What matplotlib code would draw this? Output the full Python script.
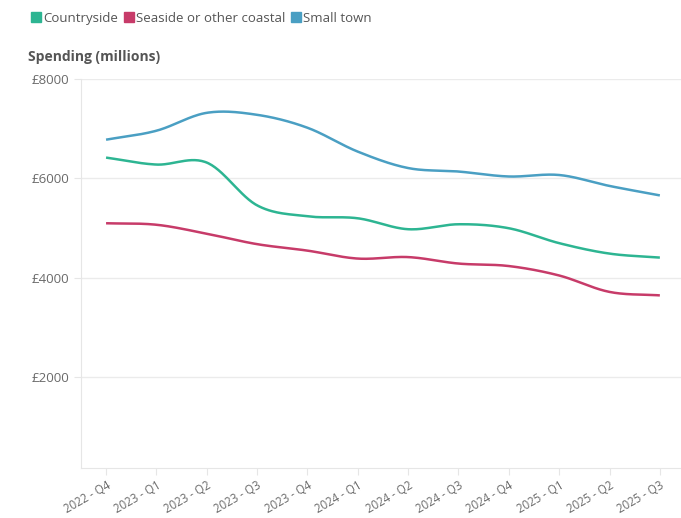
import numpy as np
import matplotlib.pyplot as plt
from matplotlib.lines import Line2D

# Dados
quarters = ['2022 - Q4', '2023 - Q1', '2023 - Q2', '2023 - Q3', '2023 - Q4', '2024 - Q1',
            '2024 - Q2', '2024 - Q3', '2024 - Q4', '2025 - Q1', '2025 - Q2', '2025 - Q3']
countryside = [6420, 6280, 6320, 5460, 5240, 5200, 4980, 5080, 5000, 4700, 4490, 4410]
seaside = [5100, 5070, 4890, 4680, 4550, 4390, 4420, 4290, 4240, 4050, 3720, 3650]
small_town = [6780, 6960, 7320, 7280, 7020, 6540, 6210, 6140, 6040, 6070, 5850, 5660]

series = [('Countryside', countryside, '#2db592'),
          ('Seaside or other coastal', seaside, '#c73b69'),
          ('Small town', small_town, '#4a9fc3')]

plt.rcParams['font.family'] = ['Open Sans', 'DejaVu Sans']


def smooth(y, n=30):
    # Catmull-Rom simples entre os pontos
    y = np.asarray(y, float)
    p = np.concatenate([[2 * y[0] - y[1]], y, [2 * y[-1] - y[-2]]])
    xs, ys = [], []
    for i in range(len(y) - 1):
        t = np.linspace(0, 1, n, endpoint=False)
        p0, p1, p2, p3 = p[i], p[i + 1], p[i + 2], p[i + 3]
        yy = 0.5 * (2 * p1 + (-p0 + p2) * t + (2 * p0 - 5 * p1 + 4 * p2 - p3) * t ** 2
                    + (-p0 + 3 * p1 - 3 * p2 + p3) * t ** 3)
        xs.append(i + t); ys.append(yy)
    xs.append([len(y) - 1]); ys.append([y[-1]])
    return np.concatenate(xs), np.concatenate(ys)


fig = plt.figure(figsize=(6.81, 5.18), dpi=100)
ax = fig.add_axes([0.119, 0.0965, 0.881, 0.751])

for name, vals, col in series:
    sx, sy = smooth(vals)
    ax.plot(sx, sy, color=col, lw=1.8, solid_capstyle='butt')

ax.set_xlim(-0.497, 11.42)
ax.set_ylim(180, 8000)
ax.set_yticks([2000, 4000, 6000, 8000])
ax.set_yticklabels(['£2000', '£4000', '£6000', '£8000'])
ax.set_xticks(range(len(quarters)))
ax.set_xticklabels(quarters, rotation=30, ha='right', rotation_mode='anchor')
ax.tick_params(axis='both', colors='#e6e6e6', labelcolor='#6a6a6a', labelsize=9.5, length=5)
ax.tick_params(axis='x', labelsize=8.3, pad=3)
ax.grid(axis='y', color='#ebebeb', lw=1)
ax.set_axisbelow(True)
for s in ['top', 'right']:
    ax.spines[s].set_visible(False)
for s in ['left', 'bottom']:
    ax.spines[s].set_color('#e6e6e6')

fig.text(0.041, 0.889, 'Spending (millions)', fontsize=10, fontweight='bold', color='#555555', va='center')

handles = [Line2D([], [], marker='s', ls='none', color=c, markersize=7) for _, _, c in series]
fig.legend(handles, [n for n, _, _ in series], loc='upper left', bbox_to_anchor=(0.032, 0.995),
           ncol=3, frameon=False, handletextpad=0.1, columnspacing=0.45, handlelength=0.8,
           fontsize=9.5, labelcolor='#555555', borderaxespad=0.3)

fig.savefig('out.png', dpi=100)
